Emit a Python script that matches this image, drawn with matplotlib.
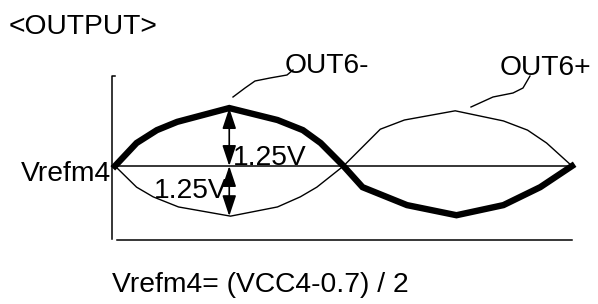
import numpy as np
import matplotlib
matplotlib.use("Agg")
import matplotlib.pyplot as plt

plt.rcParams['font.family'] = ['Liberation Sans', 'DejaVu Sans']

# waveform points: phase in degrees, level in volts (0 = Vrefm4)
out_minus_phase = [0, 17, 33, 49, 90, 128, 148, 162, 180, 195, 230, 269, 306, 335, 360]
out_minus_level = [0, 0.50, 0.78, 0.96, 1.26, 1.00, 0.78, 0.50, 0, -0.46, -0.85, -1.07, -0.85, -0.46, 0]
out_plus_phase = [0, 17, 30, 50, 91, 128, 146, 159, 180, 209, 228, 268, 306, 325, 340, 360]
out_plus_level = [0, -0.46, -0.67, -0.89, -1.09, -0.89, -0.67, -0.46, 0, 0.80, 1.00, 1.20, 0.98, 0.78, 0.50, 0]
swing_label = "1.25V"
swing_phase = 90
swing_up = 1.26
swing_down = -1.09

W, H = 598, 304
def fx(x):
    return x / W
def fy(y):
    return 1 - y / H

fig = plt.figure(figsize=(W / 100, H / 100), dpi=100)
ax = fig.add_axes([0, 0, 1, 1])
ax.set_xlim(-90.6, 380.5)
ax.set_ylim(-3.0, 3.609)
ax.axis('off')

# frame lines
fig.add_artist(plt.Line2D([fx(112), fx(112), fx(115)], [fy(239), fy(76), fy(76)], color='black', lw=1.1))
fig.add_artist(plt.Line2D([fx(117), fx(572)], [fy(240), fy(240)], color='black', lw=1.1))
ax.axhline(0, xmin=fx(112), xmax=fx(572), color='black', lw=1.1)

# waveforms
ax.plot(out_plus_phase, out_plus_level, color='black', lw=1.0, solid_joinstyle='miter')
ax.plot(out_minus_phase, out_minus_level, color='black', lw=4.6, solid_joinstyle='miter')

# amplitude arrows
for lvl in [swing_up, swing_down]:
    ax.annotate('', xy=(swing_phase, lvl), xytext=(swing_phase, 0),
                arrowprops=dict(arrowstyle='<|-|>,head_length=0.9,head_width=0.3',
                                color='black', lw=1.2, shrinkA=0, shrinkB=0,
                                mutation_scale=14))

# leader lines for labels
lead_minus = [(233, 97), (245, 88), (255, 81), (270, 78), (287, 75), (293, 70)]
lead_plus = [(471, 107), (493, 97), (513, 93), (523, 88), (530, 76)]
for pts in [lead_minus, lead_plus]:
    xs = [fx(p[0]) for p in pts]
    ys = [fy(p[1]) for p in pts]
    fig.add_artist(plt.Line2D(xs, ys, color='black', lw=1.0))

fs = 20.3
fig.text(fx(9), fy(34), "<OUTPUT>", fontsize=fs, va='baseline')
fig.text(fx(285), fy(73), "OUT6-", fontsize=fs, va='baseline')
fig.text(fx(500), fy(75), "OUT6+", fontsize=fs, va='baseline')
fig.text(fx(21), fy(181), "Vrefm4", fontsize=fs, va='baseline')
fig.text(fx(233), fy(165), swing_label, fontsize=fs, va='baseline')
fig.text(fx(154), fy(198), swing_label, fontsize=fs, va='baseline')
fig.text(fx(112), fy(292), "Vrefm4= (VCC4-0.7) / 2", fontsize=fs, va='baseline')

fig.savefig('out.png', dpi=100)
